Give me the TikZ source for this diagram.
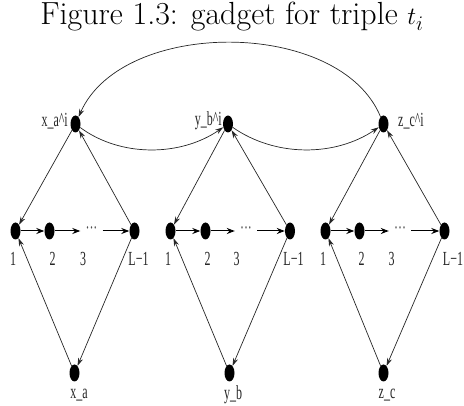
\documentclass[tikz,border=0pt]{standalone}
\usepackage{fontspec}
\usetikzlibrary{shapes.geometric,arrows.meta}
\newfontfamily\labfont[FakeStretch=0.6]{Liberation Serif}
\begin{document}
\begin{tikzpicture}[x=1pt,y=-1pt,
  dot/.style={ellipse,fill=black,minimum width=10pt,minimum height=17pt,inner sep=0pt},
  lab/.style={font=\labfont\fontsize{20}{20}\selectfont,inner sep=0pt,text=black!85},
  dotsnode/.style={font=\labfont\fontsize{20}{20}\selectfont,inner sep=5pt,text=black!70},
  arr/.style={-{Stealth[length=8pt,width=5pt]},line width=0.7pt,draw=black!85},
  chain/.style={-{Stealth[length=8pt,width=6pt]},line width=1pt,draw=black},
]
\useasboundingbox (0,0) rectangle (464,406);
\node[font=\fontsize{32}{36}\selectfont,anchor=base,inner sep=0pt] (title) at (232,25) {Figure 1.3: gadget for triple $t_i$};

% top nodes
\node[dot] (xt) at (75.5,124) {};
\node[dot] (yt) at (228,124) {};
\node[dot] (zt) at (383.5,124) {};
\node[lab,anchor=east] (xtl) at (68,121) {x\_a\textasciicircum i};
\node[lab,anchor=east] (ytl) at (222,121) {y\_b\textasciicircum i};
\node[lab,anchor=west] (ztl) at (398,121) {z\_c\textasciicircum i};

% bottom nodes
\node[dot] (xb) at (74.5,373) {};
\node[dot] (yb) at (229.5,373) {};
\node[dot] (zb) at (383.5,373) {};
\node[lab] (xbl) at (79,395) {x\_a};
\node[lab] (ybl) at (233,395) {y\_b};
\node[lab] (zbl) at (387,395) {z\_c};

% group A
\node[dot] (a1) at (15.5,231) {};
\node[dot] (a2) at (49.5,231) {};
\node[dotsnode] (ad) at (91.5,231) {\textperiodcentered\textperiodcentered\textperiodcentered};
\node[dot] (aL) at (134.5,231) {};
\node[lab] (a1l) at (13,259) {1};
\node[lab] (a2l) at (52.5,259) {2};
\node[lab] (a3l) at (83,259) {3};
\node[lab] (aLl) at (138.5,259) {L−1};

% group B
\node[dot] (b1) at (170.5,231) {};
\node[dot] (b2) at (205.5,231) {};
\node[dotsnode] (bd) at (246,231) {\textperiodcentered\textperiodcentered\textperiodcentered};
\node[dot] (bL) at (290,231) {};
\node[lab] (b1l) at (168,259) {1};
\node[lab] (b2l) at (207.5,259) {2};
\node[lab] (b3l) at (236.5,259) {3};
\node[lab] (bLl) at (293.5,259) {L−1};

% group C
\node[dot] (c1) at (325.5,231) {};
\node[dot] (c2) at (359.5,231) {};
\node[dotsnode] (cd) at (400,231) {\textperiodcentered\textperiodcentered\textperiodcentered};
\node[dot] (cL) at (444.5,231) {};
\node[lab] (c1l) at (323,259) {1};
\node[lab] (c2l) at (361.5,259) {2};
\node[lab] (c3l) at (391.5,259) {3};
\node[lab] (cLl) at (453,259) {L−1};

% chains
\foreach \g in {a,b,c} {
  \draw[chain] (\g1) -- (\g2);
  \draw[chain] (\g2) -- (\g d);
  \draw[chain] (\g d) -- (\g L);
}

% diamonds
\draw[arr] (xt) -- (a1);
\draw[arr] (aL) -- (xt);
\draw[arr] (xb) -- (a1);
\draw[arr] (aL) -- (xb);

\draw[arr] (yt) -- (b1);
\draw[arr] (bL) -- (yt);
\draw[arr] (yb) -- (b1);
\draw[arr] (bL) -- (yb);

\draw[arr] (zt) -- (c1);
\draw[arr] (cL) -- (zt);
\draw[arr] (zb) -- (c1);
\draw[arr] (cL) -- (zb);

% curves between top nodes
\draw[arr] (xt) .. controls (120,157) and (180,157) .. (yt);
\draw[arr] (yt) .. controls (275,157) and (335,157) .. (zt);
\draw[arr] (zt) .. controls (340,18) and (122,18) .. (xt);
\end{tikzpicture}
\end{document}
